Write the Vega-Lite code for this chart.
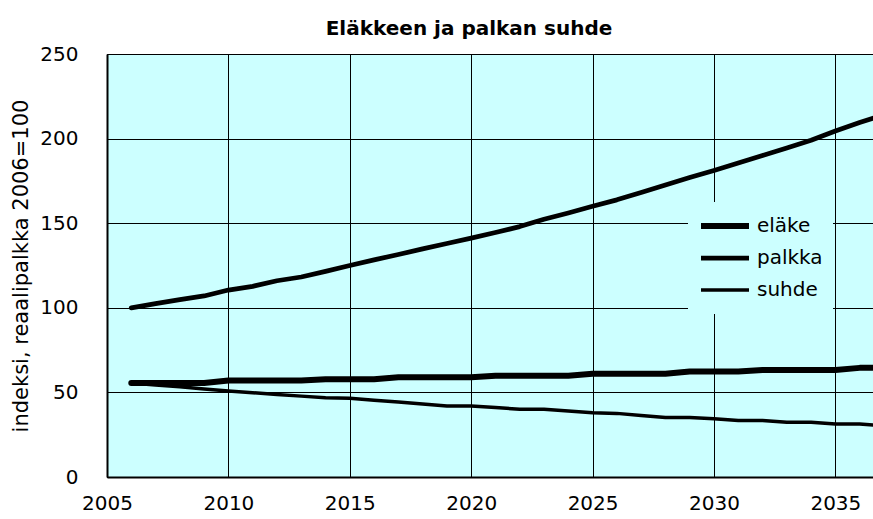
{
  "$schema": "https://vega.github.io/schema/vega-lite/v6.json",
  "width": 766,
  "height": 423,
  "autosize": {"type": "none"},
  "padding": {"left": 107, "top": 54, "right": 0, "bottom": 42},
  "background": "white",
  "config": {
    "view": {"fill": "#CCFFFF", "stroke": "black", "strokeWidth": 1},
    "font": "DejaVu Sans"
  },
  "title": {
    "text": "Eläkkeen ja palkan suhde",
    "fontSize": 20,
    "fontWeight": "bold",
    "font": "DejaVu Sans",
    "color": "black",
    "dx": -21,
    "offset": 5
  },
  "data": {
    "values": [
      {"year": 2006, "series": "eläke", "value": 55.5},
      {"year": 2007, "series": "eläke", "value": 55.5},
      {"year": 2008, "series": "eläke", "value": 55.5},
      {"year": 2009, "series": "eläke", "value": 55.5},
      {"year": 2010, "series": "eläke", "value": 57.0},
      {"year": 2011, "series": "eläke", "value": 57.0},
      {"year": 2012, "series": "eläke", "value": 57.0},
      {"year": 2013, "series": "eläke", "value": 57.0},
      {"year": 2014, "series": "eläke", "value": 57.8},
      {"year": 2015, "series": "eläke", "value": 57.8},
      {"year": 2016, "series": "eläke", "value": 57.8},
      {"year": 2017, "series": "eläke", "value": 58.9},
      {"year": 2018, "series": "eläke", "value": 58.9},
      {"year": 2019, "series": "eläke", "value": 58.9},
      {"year": 2020, "series": "eläke", "value": 58.9},
      {"year": 2021, "series": "eläke", "value": 59.9},
      {"year": 2022, "series": "eläke", "value": 59.9},
      {"year": 2023, "series": "eläke", "value": 59.9},
      {"year": 2024, "series": "eläke", "value": 59.9},
      {"year": 2025, "series": "eläke", "value": 61.0},
      {"year": 2026, "series": "eläke", "value": 61.0},
      {"year": 2027, "series": "eläke", "value": 61.0},
      {"year": 2028, "series": "eläke", "value": 61.0},
      {"year": 2029, "series": "eläke", "value": 62.3},
      {"year": 2030, "series": "eläke", "value": 62.3},
      {"year": 2031, "series": "eläke", "value": 62.3},
      {"year": 2032, "series": "eläke", "value": 63.3},
      {"year": 2033, "series": "eläke", "value": 63.3},
      {"year": 2034, "series": "eläke", "value": 63.3},
      {"year": 2035, "series": "eläke", "value": 63.3},
      {"year": 2036, "series": "eläke", "value": 64.5},
      {"year": 2037, "series": "eläke", "value": 64.5},
      {"year": 2006, "series": "palkka", "value": 100.0},
      {"year": 2007, "series": "palkka", "value": 102.5},
      {"year": 2008, "series": "palkka", "value": 104.8},
      {"year": 2009, "series": "palkka", "value": 107.0},
      {"year": 2010, "series": "palkka", "value": 110.5},
      {"year": 2011, "series": "palkka", "value": 112.7},
      {"year": 2012, "series": "palkka", "value": 116.0},
      {"year": 2013, "series": "palkka", "value": 118.2},
      {"year": 2014, "series": "palkka", "value": 121.5},
      {"year": 2015, "series": "palkka", "value": 125.0},
      {"year": 2016, "series": "palkka", "value": 128.3},
      {"year": 2017, "series": "palkka", "value": 131.5},
      {"year": 2018, "series": "palkka", "value": 134.8},
      {"year": 2019, "series": "palkka", "value": 138.0},
      {"year": 2020, "series": "palkka", "value": 141.2},
      {"year": 2021, "series": "palkka", "value": 144.5},
      {"year": 2022, "series": "palkka", "value": 148.0},
      {"year": 2023, "series": "palkka", "value": 152.3},
      {"year": 2024, "series": "palkka", "value": 156.0},
      {"year": 2025, "series": "palkka", "value": 160.0},
      {"year": 2026, "series": "palkka", "value": 163.8},
      {"year": 2027, "series": "palkka", "value": 168.2},
      {"year": 2028, "series": "palkka", "value": 172.6},
      {"year": 2029, "series": "palkka", "value": 177.0},
      {"year": 2030, "series": "palkka", "value": 181.2},
      {"year": 2031, "series": "palkka", "value": 185.6},
      {"year": 2032, "series": "palkka", "value": 190.0},
      {"year": 2033, "series": "palkka", "value": 194.5},
      {"year": 2034, "series": "palkka", "value": 199.0},
      {"year": 2035, "series": "palkka", "value": 204.5},
      {"year": 2036, "series": "palkka", "value": 209.5},
      {"year": 2037, "series": "palkka", "value": 214.0},
      {"year": 2006, "series": "suhde", "value": 55.5},
      {"year": 2007, "series": "suhde", "value": 54.4},
      {"year": 2008, "series": "suhde", "value": 53.3},
      {"year": 2009, "series": "suhde", "value": 52.0},
      {"year": 2010, "series": "suhde", "value": 50.8},
      {"year": 2011, "series": "suhde", "value": 49.8},
      {"year": 2012, "series": "suhde", "value": 48.8},
      {"year": 2013, "series": "suhde", "value": 47.8},
      {"year": 2014, "series": "suhde", "value": 46.8},
      {"year": 2015, "series": "suhde", "value": 46.5},
      {"year": 2016, "series": "suhde", "value": 45.3},
      {"year": 2017, "series": "suhde", "value": 44.3},
      {"year": 2018, "series": "suhde", "value": 43.1},
      {"year": 2019, "series": "suhde", "value": 41.9},
      {"year": 2020, "series": "suhde", "value": 41.9},
      {"year": 2021, "series": "suhde", "value": 41.1},
      {"year": 2022, "series": "suhde", "value": 40.0},
      {"year": 2023, "series": "suhde", "value": 40.0},
      {"year": 2024, "series": "suhde", "value": 39.0},
      {"year": 2025, "series": "suhde", "value": 38.0},
      {"year": 2026, "series": "suhde", "value": 37.6},
      {"year": 2027, "series": "suhde", "value": 36.4},
      {"year": 2028, "series": "suhde", "value": 35.2},
      {"year": 2029, "series": "suhde", "value": 35.2},
      {"year": 2030, "series": "suhde", "value": 34.4},
      {"year": 2031, "series": "suhde", "value": 33.4},
      {"year": 2032, "series": "suhde", "value": 33.4},
      {"year": 2033, "series": "suhde", "value": 32.3},
      {"year": 2034, "series": "suhde", "value": 32.3},
      {"year": 2035, "series": "suhde", "value": 31.3},
      {"year": 2036, "series": "suhde", "value": 31.3},
      {"year": 2037, "series": "suhde", "value": 30.2}
    ]
  },
  "mark": {"type": "line", "clip": true, "color": "black", "strokeCap": "round", "strokeJoin": "round"},
  "encoding": {
    "x": {
      "field": "year",
      "type": "quantitative",
      "scale": {"domain": [2005, 2036.55], "nice": false, "zero": false},
      "axis": {
        "values": [2005, 2010, 2015, 2020, 2025, 2030, 2035],
        "format": "d",
        "title": null,
        "grid": true,
        "gridColor": "black",
        "gridOpacity": 1,
        "gridWidth": 1,
        "ticks": false,
        "labelFontSize": 20,
        "labelFont": "DejaVu Sans",
        "labelColor": "black",
        "labelPadding": 16,
        "labelFlush": false,
        "domainColor": "black",
        "domainWidth": 2
      }
    },
    "y": {
      "field": "value",
      "type": "quantitative",
      "scale": {"domain": [0, 250], "nice": false},
      "axis": {
        "values": [0, 50, 100, 150, 200, 250],
        "title": "indeksi, reaalipalkka 2006=100",
        "titleFont": "DejaVu Sans",
        "titleFontSize": 21,
        "titleFontWeight": "normal",
        "titleColor": "black",
        "titlePadding": 8,
        "grid": true,
        "gridColor": "black",
        "gridOpacity": 1,
        "gridWidth": 1,
        "ticks": false,
        "labelFontSize": 20,
        "labelFont": "DejaVu Sans",
        "labelColor": "black",
        "labelPadding": 29,
        "domainColor": "black",
        "domainWidth": 2
      }
    },
    "strokeWidth": {
      "field": "series",
      "type": "ordinal",
      "scale": {"domain": ["eläke", "palkka", "suhde"], "range": [6, 3.5, 1.3]},
      "legend": {
        "orient": "none",
        "legendX": 581,
        "legendY": 148,
        "title": null,
        "fillColor": "#CCFFFF",
        "padding": 10,
        "symbolType": "stroke",
        "symbolSize": 2304,
        "symbolStrokeColor": "black",
        "labelFontSize": 20,
        "labelFont": "DejaVu Sans",
        "labelColor": "black",
        "labelOffset": 5,
        "clipHeight": 28,
        "rowPadding": 4
      }
    }
  }
}
